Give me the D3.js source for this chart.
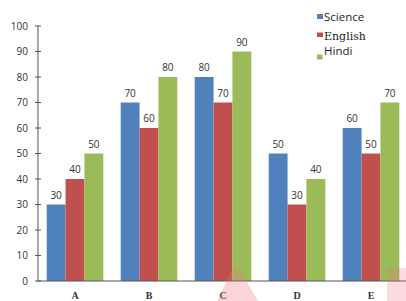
<!DOCTYPE html>
<html><head><meta charset="utf-8">
<script src="https://cdn.jsdelivr.net/npm/d3@7"></script>
<style>html,body{margin:0;padding:0;background:#fff;}svg{display:block;}</style>
</head><body>
<script>
const categories = ["A","B","C","D","E"];
const seriesNames = ["Science","English","Hindi"];
const science = [30,70,80,50,60];
const english = [40,60,70,30,50];
const hindi = [50,80,90,40,70];
const yTicks = [0,10,20,30,40,50,60,70,80,90,100];
const colors = ["#4f81bd","#c0504d","#9bbb59"];

const W = 406, H = 301;
const svg = d3.select("body").append("svg").attr("width", W).attr("height", H);

const y = d3.scaleLinear().domain([0,100]).range([281,26]);
const x0 = d3.scaleBand().domain(categories).range([38,408]).paddingInner(0.235).paddingOuter(0.1175);
const x1 = d3.scaleBand().domain(seriesNames).range([0, x0.bandwidth()]);
const allSeries = [science, english, hindi];

// y axis
const yAxis = d3.axisLeft(y).tickValues(yTicks).tickSize(0).tickPadding(0);
const gy = svg.append("g").attr("transform","translate(38,0)");
gy.append("line").attr("x1",0).attr("x2",0).attr("y1",y(100)).attr("y2",y(0)).attr("stroke","#555").attr("stroke-width",1);
gy.selectAll("line.tk").data(yTicks).enter().append("line").attr("class","tk")
  .attr("x1",-3).attr("x2",3).attr("y1",d=>y(d)).attr("y2",d=>y(d)).attr("stroke","#555");
gy.selectAll("text.tl").data(yTicks).enter().append("text").attr("class","tl")
  .attr("x",-10).attr("y",d=>y(d)).attr("dy","0.35em").attr("text-anchor","end")
  .attr("font-family","Open Sans, sans-serif").attr("font-size",10).attr("fill","#333").text(d=>d);

// bars
const groups = svg.selectAll("g.grp").data(categories).enter().append("g").attr("class","grp")
  .attr("transform", d=>`translate(${x0(d)},0)`);
seriesNames.forEach((s, si) => {
  groups.append("rect")
    .attr("x", x1(s)).attr("width", x1.bandwidth())
    .attr("y", (d,i)=>y(allSeries[si][i])).attr("height",(d,i)=>y(0)-y(allSeries[si][i]))
    .attr("fill", colors[si]);
  groups.append("text")
    .attr("x", x1(s)+x1.bandwidth()/2).attr("y",(d,i)=>y(allSeries[si][i])-6)
    .attr("text-anchor","middle").attr("font-family","Open Sans, sans-serif").attr("font-size",10)
    .attr("fill","#333").text((d,i)=>allSeries[si][i]);
});

// x axis line
svg.append("line").attr("x1",38).attr("x2",406).attr("y1",y(0)).attr("y2",y(0)).attr("stroke","#555");
svg.selectAll("text.cat").data(categories).enter().append("text").attr("class","cat")
  .attr("x", d=>x0(d)+x0.bandwidth()/2).attr("y",299).attr("text-anchor","middle")
  .attr("font-family","Liberation Serif, serif").attr("font-weight","bold").attr("font-size",10)
  .attr("fill","#333").text(d=>d);

// legend
const legend = [
  {name:"Science", sq:[317,14,6,5], ty:21, font:"Open Sans, sans-serif", size:11.5, weight:"normal"},
  {name:"English", sq:[317,32.5,6,4.5], ty:39.5, font:"DejaVu Serif, serif", size:11, weight:"normal"},
  {name:"Hindi", sq:[317,54.5,5.5,5], ty:54.5, font:"Open Sans, sans-serif", size:11.5, weight:"normal"}
];
legend.forEach((l,i)=>{
  svg.append("rect").attr("x",l.sq[0]).attr("y",l.sq[1]).attr("width",l.sq[2]).attr("height",l.sq[3]).attr("fill",colors[i]);
  svg.append("text").attr("x",324).attr("y",l.ty).attr("font-family",l.font).attr("font-size",l.size)
    .attr("font-weight",l.weight).attr("fill","#222").text(l.name);
});

// faint watermark fragments
svg.append("path").attr("d","M217,301 L231,272 Q236,266 241,272 L258,301 Z").attr("fill","#f07080").attr("opacity",0.3);
svg.append("rect").attr("x",387).attr("y",268).attr("width",19).attr("height",33).attr("fill","#f07080").attr("opacity",0.25);
</script>
</body></html>
